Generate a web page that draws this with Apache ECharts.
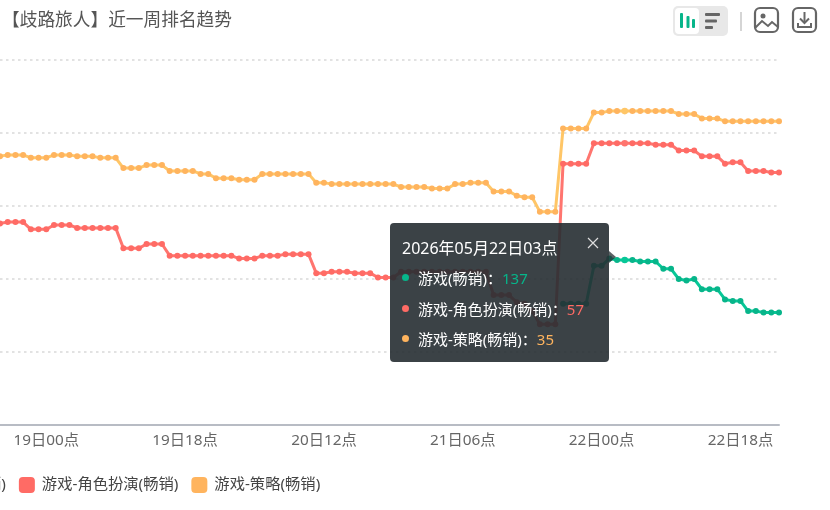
<!DOCTYPE html>
<html>
<head>
<meta charset="utf-8">
<style>html,body{margin:0;padding:0;background:#fff;overflow:hidden}#c{width:830px;height:510px}</style>
<script src="https://cdn.jsdelivr.net/npm/echarts@6/dist/echarts.min.js"></script>
</head>
<body>
<div id="c"></div>
<script>
const titleText = '【歧路旅人】近一周排名趋势';
const yearMonth = '2026年05月';
const categories = [
'18日18点','18日19点','18日20点','18日21点','18日22点','18日23点',
'19日00点','19日01点','19日02点','19日03点','19日04点','19日05点','19日06点','19日07点','19日08点','19日09点','19日10点','19日11点','19日12点','19日13点','19日14点','19日15点','19日16点','19日17点','19日18点','19日19点','19日20点','19日21点','19日22点','19日23点',
'20日00点','20日01点','20日02点','20日03点','20日04点','20日05点','20日06点','20日07点','20日08点','20日09点','20日10点','20日11点','20日12点','20日13点','20日14点','20日15点','20日16点','20日17点','20日18点','20日19点','20日20点','20日21点','20日22点','20日23点',
'21日00点','21日01点','21日02点','21日03点','21日04点','21日05点','21日06点','21日07点','21日08点','21日09点','21日10点','21日11点','21日12点','21日13点','21日14点','21日15点','21日16点','21日17点','21日18点','21日19点','21日20点','21日21点','21日22点','21日23点',
'22日00点','22日01点','22日02点','22日03点','22日04点','22日05点','22日06点','22日07点','22日08点','22日09点','22日10点','22日11点','22日12点','22日13点','22日14点','22日15点','22日16点','22日17点','22日18点','22日19点','22日20点','22日21点','22日22点','22日23点'];
const seriesNames = ['游戏(畅销)','游戏-角色扮演(畅销)','游戏-策略(畅销)'];
const seriesColors = ['#07b58a','#ff6b65','#ffb45e'];
const gameRank = [
null,null,null,null,null,null,null,null,null,null,null,null,null,null,null,null,null,null,null,null,null,null,null,null,null,null,null,null,null,null,null,null,null,null,null,null,
null,null,null,null,null,null,null,null,null,null,null,null,null,null,null,null,null,null,null,null,null,null,null,null,null,null,null,null,null,null,null,null,null,null,null,null,null,
167,167,167,167,141,141,136,137,137,137,138,138,138,143,143,150,151,150,157,157,157,164,165,165,172,172,173,173,173];
const rpgRank = [
112,111,111,111,116,116,116,113,113,113,115,115,115,115,115,115,129,129,129,126,126,126,134,134,134,134,134,134,134,134,134,136,136,136,134,134,134,133,133,133,133,146,146,145,145,145,146,146,146,149,149,149,
145,145,145,145,145,145,145,145,145,145,145,145,161,161,161,166,167,172,181,181,181,
71,71,71,71,57,57,57,57,57,57,57,57,58,58,58,62,62,62,66,66,66,71,70,70,76,76,76,77,77];
const strategyRank = [
66,65,65,65,67,67,67,65,65,65,66,66,66,67,67,67,74,74,74,72,72,72,76,76,76,76,78,78,81,81,81,82,82,82,78,78,78,78,78,78,78,84,84,85,85,85,85,85,85,85,85,85,
87,87,87,87,88,88,88,85,85,84,84,84,90,90,90,93,94,94,104,104,104,
47,47,47,47,36,36,35,35,35,35,35,35,35,35,35,37,37,37,40,40,40,42,42,42,42,42,42,42,42];
const tipIndex = 81;
const seriesData = [gameRank, rpgRank, strategyRank];

const font = '"Noto Sans","Noto Sans CJK SC",sans-serif';
const chart = echarts.init(document.getElementById('c'));
const ico = '#666';
chart.setOption({
  animation:false,
  textStyle:{fontFamily:font},
  title:{text:titleText,left:2,top:10,padding:0,textStyle:{fontSize:17.7,lineHeight:22,fontWeight:'normal',color:'#555',fontFamily:font}},
  legend:{data:seriesNames,left:-87.5,top:477,padding:0,itemWidth:16,itemHeight:16,itemGap:13,icon:'roundRect',selectedMode:false,
    textStyle:{fontSize:15.3,color:'#444',fontFamily:font,padding:[0,0,0,2]}},
  grid:{left:-2.5,right:51,top:60,bottom:85},
  tooltip:{trigger:'axis',alwaysShowContent:true,position:[390,223],axisPointer:{type:'none'},transitionDuration:0,
    backgroundColor:'transparent',borderWidth:0,padding:0,extraCssText:'box-shadow:none;overflow:visible;',
    formatter:function(ps){
      let h='<div style="position:relative;width:219px;height:139px;box-sizing:border-box;background:rgba(38,46,50,.9);border-radius:4px;color:#fff;font-family:\'Noto Sans\',\'Noto Sans CJK SC\',sans-serif;">';
      h+='<div style="position:absolute;left:12px;top:14px;font-size:16px;line-height:22px;white-space:nowrap">'+yearMonth+categories[ps[0].dataIndex]+'</div>';
      h+='<svg style="position:absolute;left:197px;top:14px" width="12" height="12"><path d="M1 1L11 11M11 1L1 11" stroke="#ddd" stroke-width="1.2" fill="none"/></svg>';
      ps.forEach(function(p,i){
        h+='<div style="position:absolute;left:28px;top:'+(44+i*30.5)+'px;font-size:15px;line-height:22px;white-space:nowrap">'+
           '<span style="position:absolute;left:-16px;top:7px;width:7px;height:7px;border-radius:50%;background:'+seriesColors[i]+'"></span>'+
           p.seriesName+'：<span style="color:'+seriesColors[i]+'">'+p.value+'</span></div>';
      });
      h+='<div style="position:absolute;left:219px;top:28px;width:0;height:0;border-top:6px solid transparent;border-bottom:6px solid transparent;border-left:7px solid rgba(38,46,50,.75)"></div></div>';
      return h;
    }},
  xAxis:{type:'category',data:categories,boundaryGap:false,
    axisLine:{onZero:false,lineStyle:{color:'#b8bcc4',width:2}},axisTick:{show:false},
    axisLabel:{color:'#666',fontSize:15.3,margin:8,fontFamily:font,interval:function(i){return (i-6)%18===0&&i>=6;}}},
  yAxis:{type:'value',inverse:true,min:0,max:250,interval:50,
    axisLine:{show:false},axisTick:{show:false},axisLabel:{show:false},
    splitLine:{lineStyle:{type:[2.5,3.5],width:2,color:'#e2e2e2'}}},
  series:seriesNames.map(function(n,i){return {
    name:n,type:'line',data:seriesData[i],symbol:'circle',symbolSize:6,showSymbol:true,showAllSymbol:true,
    connectNulls:false,clip:false,
    lineStyle:{width:3,color:seriesColors[i]},itemStyle:{color:seriesColors[i]}};}),
  graphic:[
    {type:'rect',shape:{x:673,y:6,width:55,height:30,r:5},style:{fill:'#e8e8e8'},silent:true},
    {type:'rect',shape:{x:675,y:8,width:24,height:26,r:4},style:{fill:'#fff'},silent:true},
    {type:'rect',shape:{x:680,y:13,width:3,height:15,r:1},style:{fill:seriesColors[0]},silent:true},
    {type:'rect',shape:{x:686.5,y:16,width:3,height:12,r:1},style:{fill:seriesColors[0]},silent:true},
    {type:'rect',shape:{x:692,y:19,width:3,height:9,r:1},style:{fill:seriesColors[0]},silent:true},
    {type:'rect',shape:{x:705,y:13,width:15,height:3,r:1},style:{fill:ico},silent:true},
    {type:'rect',shape:{x:705,y:19.5,width:12,height:3,r:1},style:{fill:ico},silent:true},
    {type:'rect',shape:{x:705,y:26,width:8,height:3,r:1},style:{fill:ico},silent:true},
    {type:'rect',shape:{x:740,y:12,width:2,height:19},style:{fill:'#d5d5d5'},silent:true},
    {type:'rect',shape:{x:755,y:8,width:23,height:24,r:5},style:{fill:'none',stroke:ico,lineWidth:2.2},silent:true},
    {type:'circle',shape:{cx:763,cy:16,r:2.5},style:{fill:ico},silent:true},
    {type:'polyline',shape:{points:[[755,28],[762,21],[768,26],[772,22],[778,27]]},style:{fill:'none',stroke:ico,lineWidth:2},silent:true},
    {type:'rect',shape:{x:793,y:8,width:23,height:24,r:5},style:{fill:'none',stroke:ico,lineWidth:2.2},silent:true},
    {type:'polyline',shape:{points:[[804.5,12],[804.5,23]]},style:{fill:'none',stroke:ico,lineWidth:2},silent:true},
    {type:'polyline',shape:{points:[[800,18.5],[804.5,23],[809,18.5]]},style:{fill:'none',stroke:ico,lineWidth:2},silent:true},
    {type:'polyline',shape:{points:[[798,23],[798,27],[811,27],[811,23]]},style:{fill:'none',stroke:ico,lineWidth:2},silent:true}
  ]
});
chart.dispatchAction({type:'showTip',seriesIndex:1,dataIndex:tipIndex});
</script>
</body>
</html>
